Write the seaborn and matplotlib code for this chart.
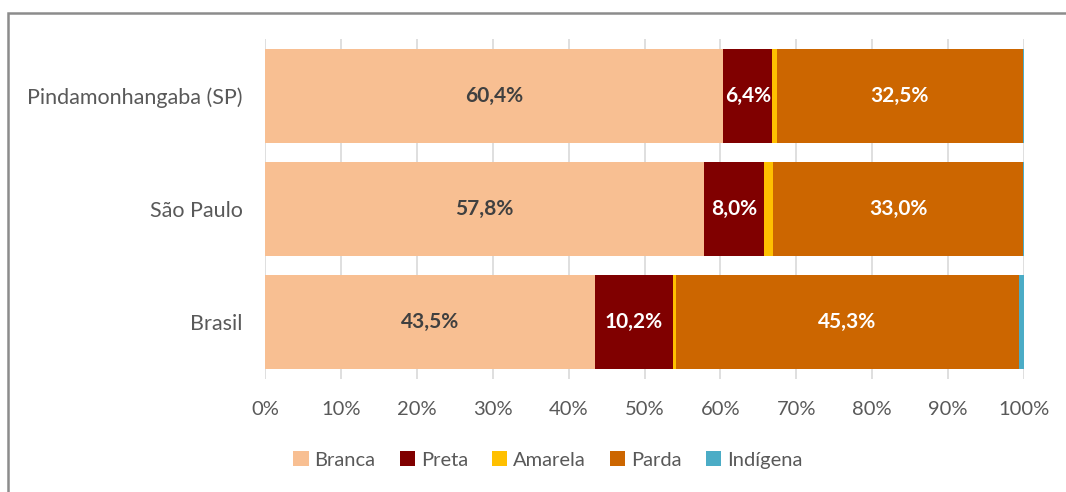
import matplotlib
matplotlib.use("Agg")
import matplotlib.pyplot as plt
from matplotlib.patches import Patch, Rectangle
import numpy as np
import pandas as pd
import seaborn as sns

# Population by colour/race (%)
regioes = ["Pindamonhangaba (SP)", "São Paulo", "Brasil"]
grupos = ["Branca", "Preta", "Amarela", "Parda", "Indígena"]
branca = [60.4, 57.8, 43.5]
preta = [6.4, 8.0, 10.2]
amarela = [0.6, 1.1, 0.4]
parda = [32.5, 33.0, 45.3]
indigena = [0.1, 0.1, 0.6]

cores = ["#F8BF92", "#800000", "#FFC000", "#CC6600", "#4BACC6"]
cores_rotulo = ["#404040", "#FFFFFF", None, "#FFFFFF", None]

sns.set_theme(style="white")
plt.rcParams["font.family"] = ["Lato", "DejaVu Sans"]

df = pd.DataFrame({"regiao": regioes, "Branca": branca, "Preta": preta,
                   "Amarela": amarela, "Parda": parda, "Indígena": indigena})
cum = df[grupos].cumsum(axis=1)

fig = plt.figure(figsize=(10.66, 4.92), dpi=100)
ax = fig.add_axes([265 / 1066, 1 - 379 / 492, 759 / 1066, 340 / 492])

# stacked bars: draw cumulative totals from the outermost segment inwards
for g, c in reversed(list(zip(grupos, cores))):
    sns.barplot(data=cum.assign(regiao=df["regiao"]), x=g, y="regiao",
                order=regioes, color=c, width=0.83, saturation=1,
                linewidth=0, ax=ax)

# value labels centred in the larger segments
for i, reg in enumerate(regioes):
    inicio = 0.0
    for g, cr in zip(grupos, cores_rotulo):
        v = df.loc[i, g]
        if cr is not None:
            ax.text(inicio + v / 2, i, f"{v:.1f}%".replace(".", ","),
                    ha="center", va="center", fontsize=15,
                    fontweight="bold", color=cr)
        inicio += v

ax.set_xlim(0, 100)
ax.set_ylim(2.5, -0.5)
ax.set_xticks(np.arange(0, 101, 10))
ax.set_xticklabels([f"{t}%" for t in range(0, 101, 10)])
ax.xaxis.grid(True, color="#D9D9D9", linewidth=1.2)
ax.set_axisbelow(True)
ax.set_xlabel("")
ax.set_ylabel("")
for s in ax.spines.values():
    s.set_visible(False)
ax.tick_params(axis="x", length=0, pad=16, labelsize=14.5, labelcolor="#595959")
ax.tick_params(axis="y", length=0, pad=16, labelsize=15.5, labelcolor="#595959")

handles = [Patch(facecolor=c, edgecolor="none", label=g) for g, c in zip(grupos, cores)]
fig.legend(handles=handles, loc="center", bbox_to_anchor=(548 / 1066, 1 - 460 / 492),
           ncol=5, frameon=False, fontsize=14.5, labelcolor="#595959",
           handlelength=0.75, handleheight=0.75, handletextpad=0.3,
           columnspacing=1.2)

# outer frame of the chart area
fig.patches.append(Rectangle((8 / 1066, -0.1), 1.2, 1.1 - 13 / 492,
                             transform=fig.transFigure, fill=False,
                             edgecolor="#8C8C8C", linewidth=1.8))

fig.savefig("out.png", dpi=100)
